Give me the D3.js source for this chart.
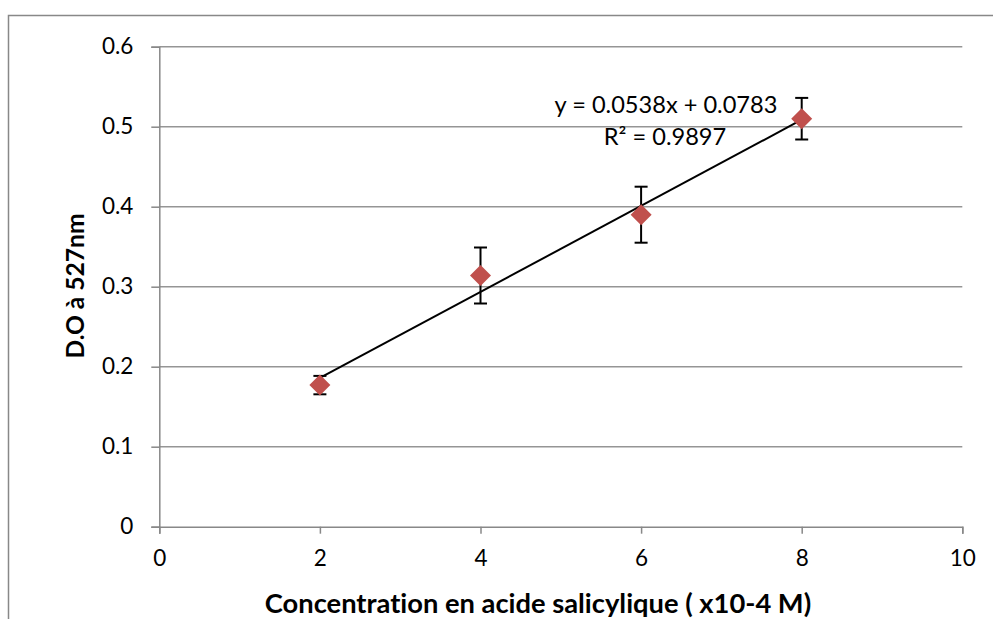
<!DOCTYPE html>
<html>
<head>
<meta charset="utf-8">
<script src="https://cdn.jsdelivr.net/npm/d3@7"></script>
<style>
  html, body { margin: 0; padding: 0; background: #fff; }
  svg { display: block; }
  text { font-variant-ligatures: none; }
</style>
</head>
<body>
<svg id="chart" width="993" height="619"></svg>
<script>
// Calibration data: salicylic acid concentration vs optical density at 527 nm
const concentrations = [2, 4, 6, 8];
const absorbance = [0.177, 0.314, 0.39, 0.51];
const errors = [0.0115, 0.035, 0.035, 0.026];

const xTicks = [0, 2, 4, 6, 8, 10];
const yTicks = [0, 0.1, 0.2, 0.3, 0.4, 0.5, 0.6];

// Linear trendline
const slope = 0.0538;
const intercept = 0.0783;
const rSquared = "0.9897";

const xTitle = "Concentration en acide salicylique ( x10-4 M)";
const yTitle = "D.O à 527nm";

const svg = d3.select("#chart");
const W = 993, H = 619;
const plot = { left: 159.3, right: 962.3, top: 46.7, bottom: 526.7 };
const grey = "#888888";
const font = "Lato, 'Open Sans', sans-serif";

// Outer chart frame (left and top edges visible)
svg.append("path")
  .attr("d", `M8.5,${H} V15.5 H${W}`)
  .attr("fill", "none").attr("stroke", grey).attr("stroke-width", 1.5);

const x = d3.scaleLinear().domain([0, 10]).range([plot.left, plot.right]);
const y = d3.scaleLinear().domain([0, 0.6]).range([plot.bottom, plot.top]);

// Horizontal gridlines
svg.append("g").selectAll("line")
  .data(yTicks.filter(v => v > 0))
  .join("line")
  .attr("x1", plot.left).attr("x2", plot.right)
  .attr("y1", d => y(d)).attr("y2", d => y(d))
  .attr("stroke", "#959595").attr("stroke-width", 1.5);

// Y axis
const yAxis = svg.append("g")
  .attr("transform", `translate(${plot.left},0)`)
  .call(d3.axisLeft(y).tickValues(yTicks).tickSize(8).tickPadding(18)
    .tickFormat(d => d === 0 ? "0" : d3.format(".1f")(d)));
yAxis.select(".domain").attr("stroke", grey).attr("stroke-width", 1.5);
yAxis.selectAll(".tick line").attr("stroke", grey).attr("stroke-width", 1.5);
yAxis.selectAll(".tick text")
  .attr("fill", "#000").style("font-family", font).style("font-size", "22.5px");

// X axis
const xAxis = svg.append("g")
  .attr("transform", `translate(0,${plot.bottom})`)
  .call(d3.axisBottom(x).tickValues(xTicks).tickSize(7).tickPadding(16)
    .tickFormat(d3.format("d")));
xAxis.select(".domain").attr("stroke", grey).attr("stroke-width", 1.5);
xAxis.selectAll(".tick line").attr("stroke", grey).attr("stroke-width", 1.5);
xAxis.selectAll(".tick text")
  .attr("fill", "#000").style("font-family", font).style("font-size", "22.5px");

// Trendline over the data range
const xMin = d3.min(concentrations), xMax = d3.max(concentrations);
svg.append("line")
  .attr("x1", x(xMin)).attr("y1", y(slope * xMin + intercept))
  .attr("x2", x(xMax)).attr("y2", y(slope * xMax + intercept))
  .attr("stroke", "#000").attr("stroke-width", 2);

const points = concentrations.map((c, i) => ({ c, v: absorbance[i], e: errors[i] }));

// Error bars
const eb = svg.append("g").attr("stroke", "#000").attr("stroke-width", 2);
points.forEach(p => {
  const cx = x(p.c), y0 = y(p.v - p.e), y1 = y(p.v + p.e);
  eb.append("line").attr("x1", cx).attr("x2", cx).attr("y1", y0).attr("y2", y1);
  eb.append("line").attr("x1", cx - 6.5).attr("x2", cx + 6.5).attr("y1", y0).attr("y2", y0);
  eb.append("line").attr("x1", cx - 6.5).attr("x2", cx + 6.5).attr("y1", y1).attr("y2", y1);
});

// Diamond markers
const r = 10.5;
svg.append("g").selectAll("path")
  .data(points)
  .join("path")
  .attr("d", d => {
    const cx = x(d.c), cy = y(d.v);
    return `M${cx},${cy - r} L${cx + r},${cy} L${cx},${cy + r} L${cx - r},${cy} Z`;
  })
  .attr("fill", "#c0504d");

// Trendline equation
const eq = svg.append("g")
  .style("font-family", font).style("font-size", "23.6px")
  .attr("text-anchor", "middle").attr("fill", "#000");
eq.append("text").attr("x", 666).attr("y", 113)
  .text(`y = ${slope}x + ${intercept}`);
eq.append("text").attr("x", 665).attr("y", 145)
  .text(`R² = ${rSquared}`);

// Axis titles
svg.append("text")
  .attr("x", 538).attr("y", 613)
  .attr("text-anchor", "middle")
  .style("font-family", font).style("font-size", "27.3px").style("font-weight", "bold")
  .text(xTitle);

svg.append("text")
  .attr("transform", "translate(84,286) rotate(-90)")
  .attr("text-anchor", "middle")
  .style("font-family", font).style("font-size", "24.6px").style("font-weight", "bold")
  .text(yTitle);
</script>
</body>
</html>
